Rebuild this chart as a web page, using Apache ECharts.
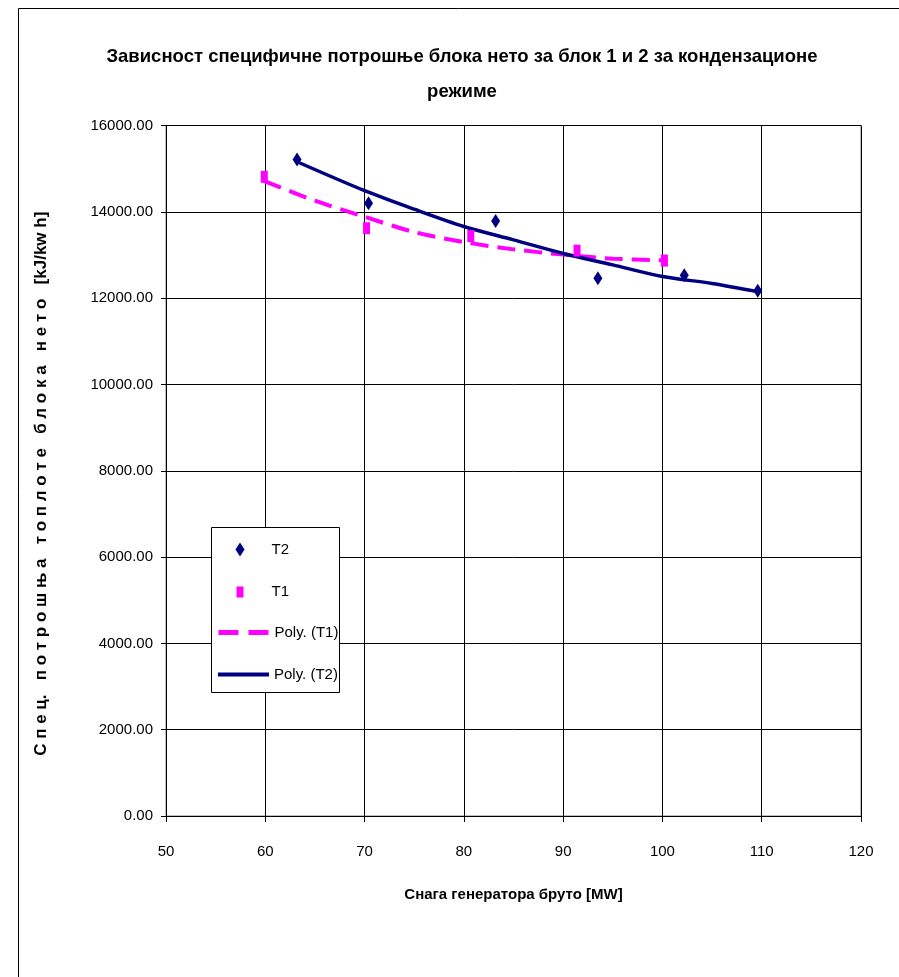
<!DOCTYPE html>
<html><head><meta charset="utf-8">
<script src="https://cdn.jsdelivr.net/npm/echarts@6/dist/echarts.min.js"></script>
<style>html,body{margin:0;padding:0;background:#fff}#c{width:899px;height:977px}</style>
</head><body><div id="c"></div>
<script>
// Measured points
const t2X = [63.2, 70.4, 83.2, 93.5, 102.2, 109.6];
const t2Y = [15210, 14200, 13790, 12460, 12530, 12170];
const t1X = [59.9, 70.2, 80.7, 91.4, 100.2];
const t1Y = [14810, 13620, 13440, 13100, 12870];
// Trend lines
const polyT2X = [63.2, 70, 75, 80, 85, 90, 95, 100, 105, 109.6];
const polyT2Y = [15160, 14490, 14060, 13660, 13350, 13035, 12770, 12500, 12340, 12150];
const polyT1X = [59.9, 65, 70, 75, 80, 85, 90, 95, 100.2];
const polyT1Y = [14713, 14257, 13886, 13530, 13300, 13130, 13010, 12915, 12875];

const titleText = 'Зависност специфичне потрошње блока нето за блок 1 и 2 за кондензационе\nрежиме';
const xName = 'Снага генератора бруто [MW]';
const yName = 'С п е ц.   п о т р о ш њ а   т о п л о т е   б л о к а   н е т о   [kJ/kw h]';

const zip = (a, b) => a.map((v, i) => [v, b[i]]);
const NF = "'Liberation Sans', Arial, sans-serif";
const navy = '#000080', mag = '#FF00FF';

const chart = echarts.init(document.getElementById('c'), null, {renderer: 'canvas'});
const legendBase = {orient: 'vertical', padding: 0, selectedMode: false, z: 6,
  textStyle: {fontSize: 15, color: '#000', fontFamily: NF}};
chart.setOption({
  animation: false,
  backgroundColor: '#fff',
  title: {text: titleText, left: 457, textAlign: 'center', top: 34,
    textStyle: {fontSize: 18.5, fontWeight: 'bold', color: '#000', fontFamily: NF, lineHeight: 35}},
  grid: {left: 166, right: 38, top: 125.5, bottom: 161, show: true, borderColor: '#808080', borderWidth: 1},
  xAxis: {type: 'value', min: 50, max: 120, interval: 10,
    name: xName, nameLocation: 'middle', nameGap: 71,
    nameTextStyle: {fontSize: 15, fontWeight: 'bold', color: '#000', fontFamily: NF},
    axisLine: {show: true, onZero: false, lineStyle: {color: '#000', width: 1}},
    axisTick: {show: true, length: 6, lineStyle: {color: '#000'}},
    axisLabel: {fontSize: 15, color: '#000', fontFamily: NF, margin: 28},
    splitLine: {show: true, lineStyle: {color: '#000', width: 1}}},
  yAxis: {type: 'value', min: 0, max: 16000, interval: 2000,
    name: yName, nameLocation: 'middle', nameGap: 116,
    nameTextStyle: {fontSize: 17, fontWeight: 'bold', color: '#000', fontFamily: NF, padding: [0, 26, 0, 0]},
    axisLine: {show: true, lineStyle: {color: '#000', width: 1}},
    axisTick: {show: true, length: 5, lineStyle: {color: '#000'}},
    axisLabel: {fontSize: 15, color: '#000', fontFamily: NF, margin: 13, formatter: v => v.toFixed(2)},
    splitLine: {show: true, lineStyle: {color: '#000', width: 1}}},
  legend: [
    Object.assign({}, legendBase, {left: 235.5, top: 542, itemWidth: 9, itemHeight: 14,
      textStyle: Object.assign({}, legendBase.textStyle, {padding: [0, 0, 0, 22]}),
      data: [{name: 'T2', icon: 'diamond'}]}),
    Object.assign({}, legendBase, {left: 236.5, top: 584.5, itemWidth: 7, itemHeight: 11,
      textStyle: Object.assign({}, legendBase.textStyle, {padding: [0, 0, 0, 23]}),
      data: [{name: 'T1', icon: 'rect'}]}),
    Object.assign({}, legendBase, {left: 216, top: 625, itemWidth: 51, itemHeight: 14,
      itemStyle: {opacity: 0}, lineStyle: {color: mag, width: 5, type: [20, 10], cap: 'butt'},
      data: ['Poly. (T1)']}),
    Object.assign({}, legendBase, {left: 216, top: 667, itemWidth: 51, itemHeight: 14,
      itemStyle: {opacity: 0}, lineStyle: {color: navy, width: 4},
      data: ['Poly. (T2)']})
  ],
  graphic: [
    {type: 'line', shape: {x1: 18.5, y1: 8.5, x2: 899, y2: 8.5}, style: {stroke: '#000', lineWidth: 1}},
    {type: 'line', shape: {x1: 18.5, y1: 8.5, x2: 18.5, y2: 977}, style: {stroke: '#000', lineWidth: 1}},
    {type: 'rect', z: 5, shape: {x: 211.5, y: 527.5, width: 128, height: 165},
      style: {fill: '#fff', stroke: '#000', lineWidth: 1}}
  ],
  series: [
    {name: 'Poly. (T1)', type: 'line', data: zip(polyT1X, polyT1Y), symbol: 'none', smooth: 0.3, z: 2,
      lineStyle: {color: mag, width: 4, type: [18, 9], cap: 'butt'}, itemStyle: {color: mag}},
    {name: 'Poly. (T2)', type: 'line', data: zip(polyT2X, polyT2Y), symbol: 'none', smooth: 0.3, z: 3,
      lineStyle: {color: navy, width: 3.5}, itemStyle: {color: navy}},
    {name: 'T2', type: 'scatter', data: zip(t2X, t2Y), symbol: 'diamond', symbolSize: [9, 14], z: 4,
      itemStyle: {color: navy, opacity: 1}},
    {name: 'T1', type: 'scatter', data: zip(t1X, t1Y), symbol: 'rect', symbolSize: [7, 12], z: 4,
      itemStyle: {color: mag, opacity: 1}}
  ]
});
</script></body></html>
